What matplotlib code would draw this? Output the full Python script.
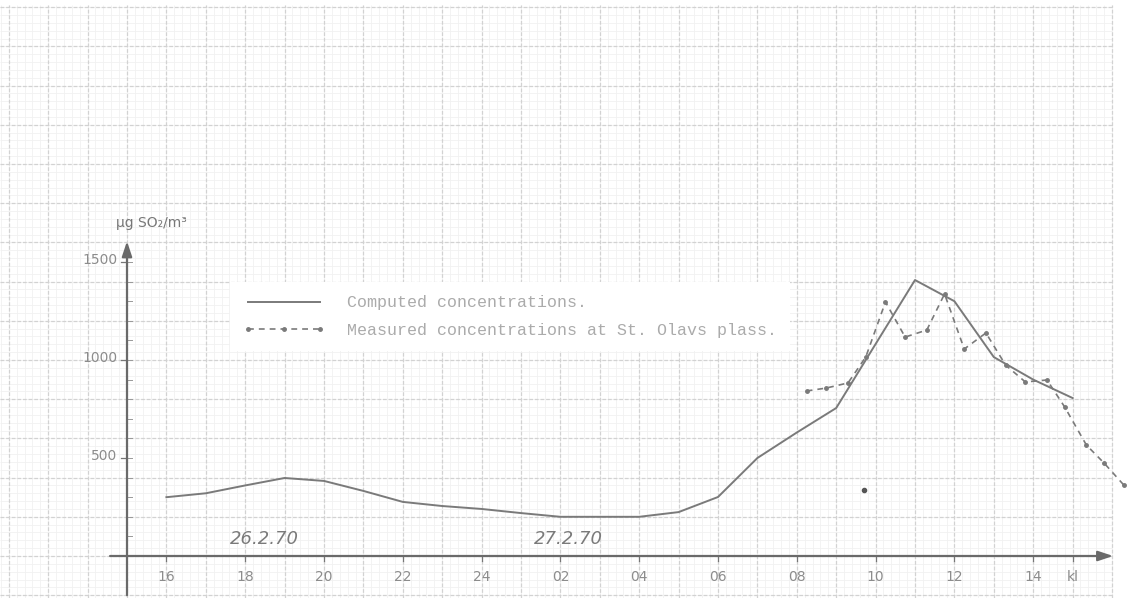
import numpy as np
import matplotlib
matplotlib.use("Agg")
import matplotlib.pyplot as plt

# ---- data (hours counted continuously from 26.2.70; 24+ = next day) ----
computed_hours = [16, 17, 18, 19, 20, 21, 22, 23, 24, 25, 26, 27, 28, 29, 30, 31, 32, 33, 35, 36, 37, 38, 39]
computed_vals = [300, 320, 360, 398, 383, 332, 276, 255, 240, 219, 200, 200, 200, 224, 301, 500, 630, 755,
                 1408, 1300, 1015, 900, 806]

measured_hours = [32.25, 32.75, 33.3, 33.75, 34.25, 34.75, 35.3, 35.75, 36.25, 36.8, 37.3, 37.8, 38.35,
                  38.8, 39.35, 39.8, 40.3]
measured_vals = [842, 857, 883, 1015, 1296, 1117, 1153, 1337, 1056, 1138, 974, 888, 898,
                 760, 566, 474, 362]

stray_hours = [33.7]
stray_vals = [335]

x_tick_hours = [16, 18, 20, 22, 24, 26, 28, 30, 32, 34, 36, 38, 39]
x_tick_labels = ["16", "18", "20", "22", "24", "02", "04", "06", "08", "10", "12", "14", "kl"]
y_tick_vals = [500, 1000, 1500]
y_tick_labels = ["500", "1000", "1500"]
date_labels = ["26.2.70", "27.2.70"]
date_hours = [18.5, 26.2]

LINE = "#7a7a7a"
TXT = "#8c8c8c"

fig = plt.figure(figsize=(11.44, 5.98), dpi=100)
ax = fig.add_axes([0, 0, 1, 1])
x0, x1 = 15 - 127 / 39.4, 15 + (1144 - 127) / 39.4
y0, y1 = (556 - 598) / 0.196, 556 / 0.196
ax.set_xlim(x0, x1)
ax.set_ylim(y0, y1)
ax.axis("off")

# ---- graph paper ----
gx_end = 40.0
gy_top = (556 - 5) / 0.196
minor_x = np.arange(11.8, gx_end + 1e-6, 0.2)
minor_y = np.arange(-200, gy_top, 40)
ax.vlines(minor_x, y0, gy_top, colors="#f1f1f1", linewidth=0.6, zorder=0)
ax.hlines(minor_y, x0, gx_end, colors="#f1f1f1", linewidth=0.6, zorder=0)
major_x = np.arange(12, gx_end + 1e-6, 1)
major_y = np.arange(-200, gy_top, 200)
ax.vlines(major_x, y0, gy_top, colors="#d2d2d2", linewidth=0.9, linestyles=(0, (3, 1.5)), zorder=0)
ax.hlines(major_y, x0, gx_end, colors="#d2d2d2", linewidth=0.9, linestyles=(0, (3, 1.5)), zorder=0)

# ---- axes with arrows ----
ax.annotate("", xy=(40.1, 0), xytext=(14.5, 0),
            arrowprops=dict(arrowstyle="-|>,head_length=0.9,head_width=0.3", color="#6a6a6a", lw=1.6))
ax.annotate("", xy=(15, 1620), xytext=(15, y0),
            arrowprops=dict(arrowstyle="-|>,head_length=0.9,head_width=0.3", color="#6a6a6a", lw=1.6))

for h, lab in zip(x_tick_hours, x_tick_labels):
    ax.plot([h, h], [-25, 0], color="#777777", lw=0.9)
    ax.text(h, -107, lab, ha="center", va="center", fontsize=10, color=TXT, family="DejaVu Sans")
for v, lab in zip(y_tick_vals, y_tick_labels):
    ax.plot([14.85, 15.0], [v, v], color="#777777", lw=0.9)
    ax.text(14.75, v + 10, lab, ha="right", va="center", fontsize=10, color=TXT, family="DejaVu Sans")
for v in range(100, 1600, 100):
    ax.plot([15.0, 15.12], [v, v], color="#999999", lw=0.7)

ax.text(14.72, 1700, "µg SO₂/m³", ha="left", va="center", fontsize=10, color="#777777", family="DejaVu Sans")

for h, lab in zip(date_hours, date_labels):
    ax.text(h, 85, lab, ha="center", va="center", fontsize=13, style="italic", color="#7a7a7a")

# ---- data lines ----
ax.plot(computed_hours, computed_vals, color=LINE, lw=1.4, zorder=3,
        label="Computed concentrations.")
ax.plot(measured_hours, measured_vals, color=LINE, lw=1.2, ls=(0, (3.5, 3)), marker="o", ms=2.5,
        zorder=3, label="Measured concentrations at St. Olavs plass.")
ax.plot(stray_hours, stray_vals, ls="none", marker="o", ms=3, color="#555555", zorder=3)

leg = ax.legend(loc="upper left", bbox_to_anchor=(230 / 1144, 1 - 282 / 598), borderaxespad=0,
                frameon=True, facecolor="white", edgecolor="none", framealpha=1, fancybox=False,
                prop={"family": "Liberation Mono", "size": 12}, handlelength=4.9, handletextpad=1.3,
                borderpad=0.8, labelspacing=0.75, numpoints=3)
for t in leg.get_texts():
    t.set_color("#ababab")

fig.savefig("out.png", dpi=100, facecolor="white")
